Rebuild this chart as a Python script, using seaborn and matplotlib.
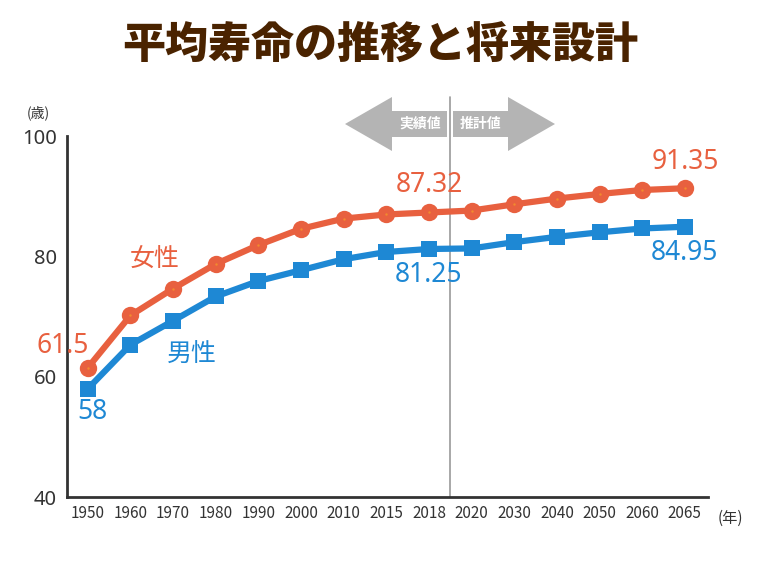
import numpy as np
import pandas as pd
import matplotlib.pyplot as plt
import seaborn as sns
from matplotlib.patches import Polygon

sns.set_style("white")
plt.rcParams["font.family"] = ["Noto Sans CJK JP", "DejaVu Sans"]

# datos
years = ["1950", "1960", "1970", "1980", "1990", "2000", "2010", "2015",
         "2018", "2020", "2030", "2040", "2050", "2060", "2065"]
female = [61.5, 70.19, 74.66, 78.76, 81.90, 84.60, 86.30, 86.99,
          87.32, 87.64, 88.68, 89.63, 90.40, 91.06, 91.35]
male = [58.0, 65.32, 69.31, 73.35, 75.92, 77.72, 79.55, 80.75,
        81.25, 81.34, 82.39, 83.27, 84.02, 84.66, 84.95]
yticks = [40, 60, 80, 100]

RED = "#E8603F"
BLUE = "#1E88D4"
BROWN = "#4A2300"
GRAY = "#B4B4B4"
DARK = "#333333"
NUMFONT = ["Noto Sans", "DejaVu Sans"]

df = pd.DataFrame({"pos": np.arange(len(years)), "year": years,
                   "female": female, "male": male})

fig = plt.figure(figsize=(7.6, 5.7), dpi=100)
ax = fig.add_axes([0.088, 0.128, 0.844, 0.633])

sns.lineplot(data=df, x="pos", y="female", ax=ax, color=RED, linewidth=4.5,
             marker="o", markersize=12.5, markeredgewidth=0, zorder=3)
sns.lineplot(data=df, x="pos", y="male", ax=ax, color=BLUE, linewidth=4.5,
             marker="s", markersize=11, markeredgewidth=0, zorder=3)
ax.scatter(df["pos"], df["female"], s=3, color="#F28A2E", zorder=4, linewidths=0)

ax.set_xlim(-0.49, 14.55)
ax.set_ylim(40, 100)
ax.set_yticks(yticks)
ax.set_yticklabels([str(v) for v in yticks], fontsize=14.5, color=DARK,
                   family=NUMFONT, fontweight="light")
ax.set_xticks(df["pos"])
ax.set_xticklabels(years, fontsize=11, color=DARK)
ax.tick_params(axis="both", length=0)
ax.tick_params(axis="y", pad=7)
ax.tick_params(axis="x", pad=6)
ax.set_xlabel("")
ax.set_ylabel("")
sns.despine(ax=ax)
for s in ["left", "bottom"]:
    ax.spines[s].set_color(DARK)
    ax.spines[s].set_linewidth(2)

# línea divisoria entre 2018 y 2020
ax.axvline(8.5, ymin=0, ymax=1.11, color="#999999", linewidth=1.2,
           clip_on=False, zorder=1)

# etiquetas de valores
def lab(i, vals, txt, dx, dy, color):
    ax.annotate(txt, (i, vals[i]), xytext=(dx, dy), textcoords="offset points",
                ha="center", va="center", fontsize=19, color=color,
                family=NUMFONT)

lab(0, female, "61.5", -18, 16, RED)
lab(0, male, "58", 3, -17, BLUE)
lab(8, female, "87.32", 0, 20, RED)
lab(8, male, "81.25", 0, -19, BLUE)
lab(14, female, "91.35", 0, 19, RED)
lab(14, male, "84.95", 0, -19, BLUE)

ax.text(1.57, 79.4, "女性", fontsize=18, color=RED, ha="center", va="center")
ax.text(2.44, 63.6, "男性", fontsize=18, color=BLUE, ha="center", va="center")

# unidades
fig.text(38 / 760, 1 - 113 / 570, "(歳)", fontsize=10, color=DARK,
         ha="center", va="center")
fig.text(730 / 760, 1 - 518 / 570, "(年)", fontsize=11, color=DARK,
         ha="center", va="center")

# título
fig.text(0.5, 1 - 46 / 570, "平均寿命の推移と将来設計", fontsize=31,
         fontweight="heavy", color=BROWN, ha="center", va="center")

# flechas 実績値 / 推計値 (en píxeles de figura)
def px(x, y):
    return (x / 760, 1 - y / 570)

cy = 124
left_arrow = [px(345, cy), px(392, cy - 27), px(392, cy - 13), px(447, cy - 13),
              px(447, cy + 13), px(392, cy + 13), px(392, cy + 27)]
right_arrow = [px(555, cy), px(508, cy - 27), px(508, cy - 13), px(453, cy - 13),
               px(453, cy + 13), px(508, cy + 13), px(508, cy + 27)]
for pts in (left_arrow, right_arrow):
    fig.patches.append(Polygon(pts, closed=True, transform=fig.transFigure,
                               facecolor=GRAY, edgecolor="none"))
fig.text(*px(420, cy), "実績値", fontsize=10, color="white", ha="center",
         va="center", fontweight="bold")
fig.text(*px(481, cy), "推計値", fontsize=10, color="white", ha="center",
         va="center", fontweight="bold")

fig.savefig("out.png", dpi=100)
